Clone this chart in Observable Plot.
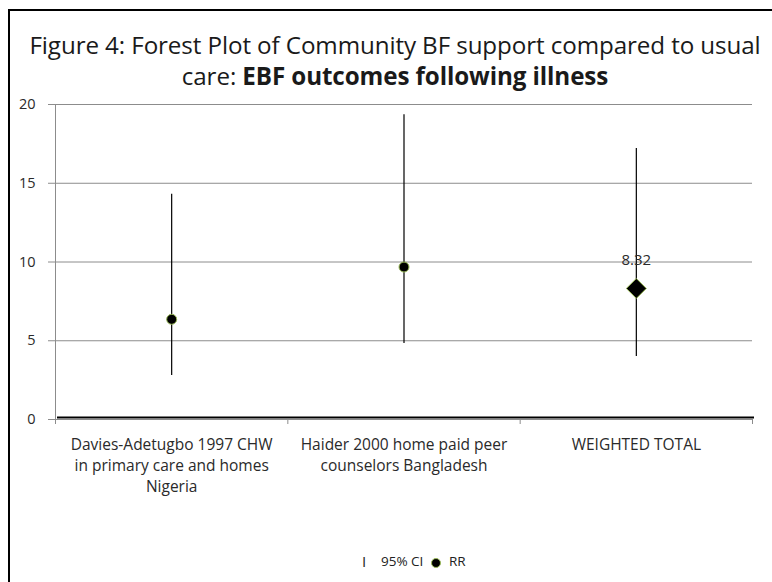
<!DOCTYPE html>
<html>
<head>
<meta charset="utf-8">
<script src="https://cdn.jsdelivr.net/npm/d3@7"></script>
<script src="https://cdn.jsdelivr.net/npm/@observablehq/plot@0.6"></script>
<style>
  html, body { margin: 0; padding: 0; background: #fff; }
  body { width: 772px; height: 582px; position: relative; overflow: hidden; font-family: "Open Sans", sans-serif; }
  #frame { position: absolute; left: 8px; top: 9px; width: 770px; height: 580px; border-left: 2px solid #000; border-top: 2px solid #000; z-index: 5; pointer-events: none; }
  #title { position: absolute; left: 14px; width: 762px; top: 29px; text-align: center; font-size: 24.2px; line-height: 31px; color: #1a1a1a; letter-spacing: -0.1px; }
  #title b { font-weight: 700; }
  #chart { position: absolute; left: 0; top: 90px; }
  #legend { position: absolute; top: 552px; left: 0; width: 772px; height: 20px; font-size: 13.5px; color: #222; }
  #legend span { position: absolute; top: 0; }
  #legend .dot { width: 8px; height: 8px; border-radius: 50%; background: #000; border: 1px solid #9bbb59; top: 6px; }
</style>
</head>
<body>
<div id="frame"></div>
<div id="title">Figure 4: Forest Plot of Community BF support compared to usual<br>care: <b>EBF outcomes following illness</b></div>
<div id="chart"></div>
<div id="legend"><span style="left:362px;font-size:15px;top:-1px">I</span><span style="left:381px">95% CI</span><span class="dot" style="left:431px"></span><span style="left:449px">RR</span></div>
<script>
// ---- data ----
const studies = [
  "Davies-Adetugbo 1997 CHW in primary care and homes Nigeria",
  "Haider 2000 home paid peer counselors Bangladesh",
  "WEIGHTED TOTAL"
];
const studyLabels = [
  "Davies-Adetugbo 1997 CHW\nin primary care and homes\nNigeria",
  "Haider 2000 home paid peer\ncounselors Bangladesh",
  "WEIGHTED TOTAL"
];
const rr = [6.36, 9.68, 8.32];
const ciLower = [2.8, 4.82, 4.0];
const ciUpper = [14.3, 19.35, 17.2];
const markerKind = ["dot", "dot", "diamond"];
const valueLabels = ["", "", "8.32"];
const yTicks = [0, 5, 10, 15, 20];
const gridValues = [5, 10, 15, 20];

const rows = studies.map((s, i) => ({
  study: s, pos: i + 0.5, label: studyLabels[i], rr: rr[i],
  lo: ciLower[i], hi: ciUpper[i], kind: markerKind[i], vlabel: valueLabels[i]
}));
const boundaries = d3.range(studies.length + 1);

const gray = "#8c8c8c";
const chart = Plot.plot({
  width: 772,
  height: 419,
  marginTop: 14,
  marginBottom: 90,
  marginLeft: 55,
  marginRight: 20,
  style: { fontFamily: "Open Sans, sans-serif", fontSize: "14px", color: "#2a2a2a", background: "transparent", overflow: "visible" },
  x: { type: "linear", domain: [0, studies.length] },
  y: { domain: [0, 20] },
  marks: [
    Plot.ruleY(gridValues, { stroke: gray, strokeWidth: 1 }),
    Plot.ruleY([0], { stroke: gray, strokeWidth: 1 }),
    Plot.ruleX([0], { stroke: gray, strokeWidth: 1 }),
    Plot.axisY({ ticks: yTicks, tickSize: 7, tickPadding: 13, stroke: gray, label: null, fontSize: 14.5 }),
    Plot.axisX({ ticks: boundaries, tickSize: 5, tickFormat: () => "", stroke: gray, label: null }),
    Plot.axisX({ ticks: rows.map(d => d.pos), tickSize: 0, tickPadding: 15, lineHeight: 1.37,
      tickFormat: (v) => studyLabels[Math.floor(v)], label: null, fontSize: 15.5, letterSpacing: "1.3px" }),
    Plot.ruleY([0], { stroke: "#000", strokeWidth: 2, dy: -2, dx: 2 }),
    Plot.ruleX(rows, { x: "pos", y1: "lo", y2: "hi", stroke: "#000", strokeWidth: 1.2 }),
    Plot.dot(rows.filter(d => d.kind === "dot"), { x: "pos", y: "rr", r: 5, fill: "#000", stroke: "#9bbb59", strokeWidth: 1 }),
    Plot.dot(rows.filter(d => d.kind === "diamond"), { x: "pos", y: "rr", r: 9, symbol: "diamond2", fill: "#000", stroke: "#9bbb59", strokeWidth: 1 }),
    Plot.text(rows.filter(d => d.vlabel), { x: "pos", y: "rr", text: "vlabel", dy: -28, fontSize: 15, letterSpacing: "1px", fill: "#2a2a2a" })
  ]
});
document.getElementById("chart").appendChild(chart);
</script>
</body>
</html>
